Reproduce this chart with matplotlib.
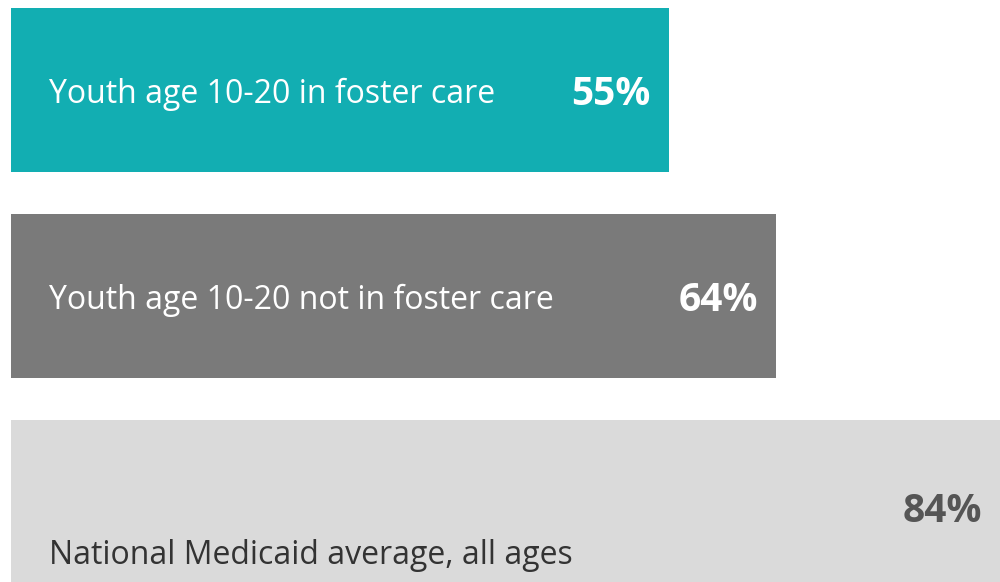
import matplotlib
matplotlib.use("Agg")
import matplotlib.pyplot as plt

labels = [
    "Youth age 10-20 in foster care",
    "Youth age 10-20 not in foster care",
    "National Medicaid average, all ages",
]
values = [55, 64, 84]
bar_colors = ["#12AEB2", "#7A7A7A", "#DADADA"]
text_colors = ["white", "white", "#333333"]
value_colors = ["white", "white", "#555555"]

plt.rcParams["font.family"] = ["Open Sans", "DejaVu Sans"]

fig = plt.figure(figsize=(10, 5.82), dpi=100)
ax = fig.add_axes([0, 0, 1, 1])

pos = range(len(values))
ax.barh(pos, values, height=0.8, color=bar_colors, left=0)

# about 11.96 px per percentage point, bars start 11 px in from the left
ax.set_xlim(-11 / 11.96, (1000 - 11) / 11.96)
ax.set_ylim(2.388, -0.437)
ax.axis("off")

label_dy = [-4, -4, -53]
value_dy = [-4, -4, -9]
xmax = ax.get_xlim()[1]
for i, (lab, v) in enumerate(zip(labels, values)):
    ax.annotate(lab, xy=(0, i), xytext=(38 * 0.72, label_dy[i] * 0.72),
                textcoords="offset points", ha="left", va="center",
                fontsize=23, color=text_colors[i])
    ax.annotate(f"{v}%", xy=(min(v, xmax), i), xytext=(-18 * 0.72, value_dy[i] * 0.72),
                textcoords="offset points", ha="right", va="center",
                fontsize=28, fontweight="bold", color=value_colors[i])

fig.savefig("out.png", dpi=100)
